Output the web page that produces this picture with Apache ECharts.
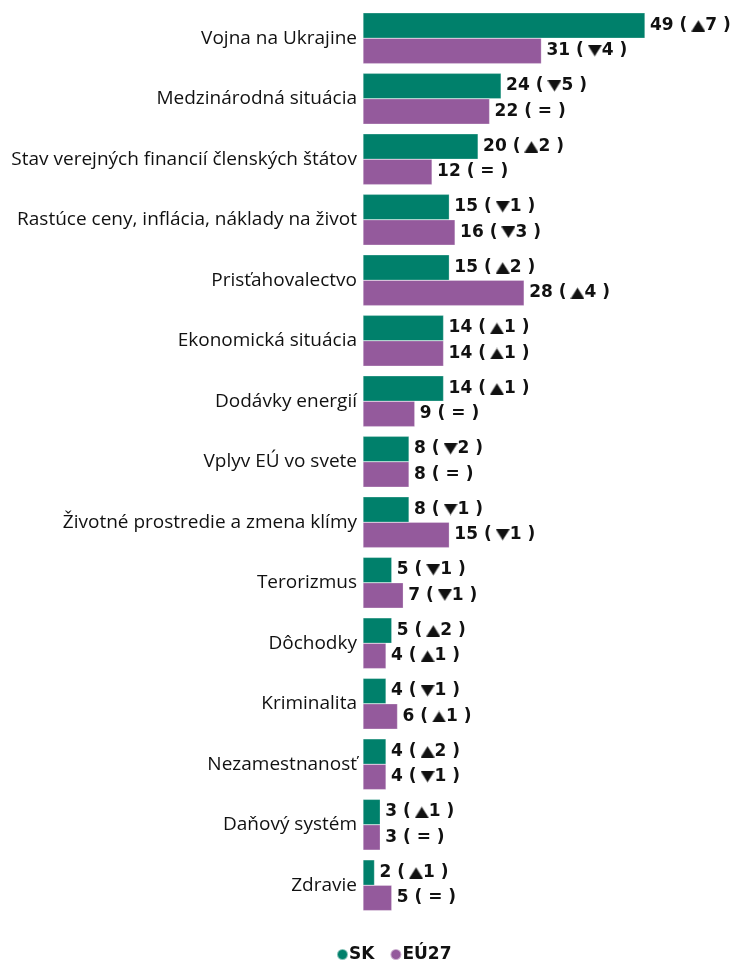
<!DOCTYPE html>
<html><head><meta charset="utf-8">
<script src="https://cdn.jsdelivr.net/npm/echarts@6/dist/echarts.min.js"></script>
<style>html,body{margin:0;padding:0;background:#fff}#c{width:738px;height:962px}</style>
</head><body><div id="c"></div>
<script>
const categories = ["Vojna na Ukrajine","Medzinárodná situácia","Stav verejných financií členských štátov","Rastúce ceny, inflácia, náklady na život","Prisťahovalectvo","Ekonomická situácia","Dodávky energií","Vplyv EÚ vo svete","Životné prostredie a zmena klímy","Terorizmus","Dôchodky","Kriminalita","Nezamestnanosť","Daňový systém","Zdravie"];
const skValues = [49,24,20,15,15,14,14,8,8,5,5,4,4,3,2];
const skChange = [7,-5,2,-1,2,1,1,-2,-1,-1,2,-1,2,1,1];
const euValues = [31,22,12,16,28,14,9,8,15,7,4,6,4,3,5];
const euChange = [-4,0,0,-3,4,1,0,0,-1,-1,1,1,-1,0,0];
const seriesNames = ["SK","EÚ27"];
const colors = ["#00806b","#945a9c"];

const FONT = "Open Sans";
const VFONT = "DejaVu Sans";
function triCanvas(up){
  const c = document.createElement("canvas");
  c.width = 15; c.height = 8;
  const g = c.getContext("2d");
  g.fillStyle = "#111";
  g.beginPath();
  if (up){ g.moveTo(0,8); g.lineTo(7.5,0.5); g.lineTo(15,8); }
  else { g.moveTo(0,0); g.lineTo(7.5,7.5); g.lineTo(15,0); }
  g.closePath(); g.fill();
  return c;
}
const upImg = triCanvas(true), downImg = triCanvas(false);
function fmt(v, ch){
  if (ch === 0) return "{v|" + v + " ( = )}";
  const arr = ch > 0 ? "{up|}" : "{dn|}";
  return "{v|" + v + " (}{g|}" + arr + "{v|" + Math.abs(ch) + " )}";
}
const rich = {
  v:{fontFamily:VFONT,fontWeight:"bold",fontSize:17,color:"#111"},
  g:{width:4, height:1},
  up:{width:14, height:8, backgroundColor:{image:upImg}, padding:[0,0,4,0]},
  dn:{width:14, height:8, backgroundColor:{image:downImg}, padding:[0,0,4,0]}
};
function mk(i, vals, chs){
  return {
    name: seriesNames[i], type:"bar",
    data: vals.map((v,k)=>({value:v, ch:chs[k]})),
    itemStyle:{color:colors[i], borderColor:"rgba(255,255,255,0.5)", borderWidth:0.5},
    barGap:"0%", barCategoryGap:"16%",
    label:{show:true, position:"right", distance:5, rich:rich,
      formatter:p=>fmt(p.data.value, p.data.ch)},
    emphasis:{disabled:true}
  };
}
const chart = echarts.init(document.getElementById("c"), null, {renderer:"canvas"});
chart.setOption({
  animation:false,
  grid:{left:363, top:8, width:345.3, height:907.5, containLabel:false},
  xAxis:{type:"value", min:0, max:60, show:false},
  yAxis:{type:"category", data:categories, inverse:true,
    axisLine:{show:false}, axisTick:{show:false},
    axisLabel:{fontFamily:FONT, fontSize:19, color:"#111", margin:6}},
  legend:{top:941, left:331, icon:"circle", itemWidth:11, itemHeight:11, itemGap:15,
    textStyle:{fontFamily:VFONT, fontWeight:"bold", fontSize:17, color:"#111", padding:[0,0,0,-4]},
    data:seriesNames},
  series:[mk(0, skValues, skChange), mk(1, euValues, euChange)]
});
</script></body></html>
